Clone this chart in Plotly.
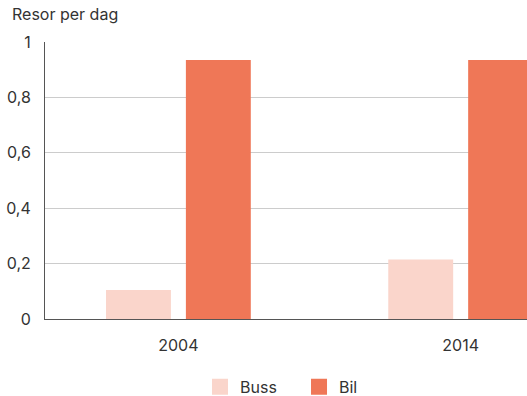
import plotly.graph_objects as go

years = ["2004", "2014"]
buss = [0.105, 0.215]
bil = [0.935, 0.935]
y_ticks = [0, 0.2, 0.4, 0.6, 0.8, 1]
y_ticktext = ["0", "0,2", "0,4", "0,6", "0,8", "1"]
series_names = ["Buss", "Bil"]
series_colors = ["#FAD5CB", "#EF7757"]

FONT = "Inter, Liberation Sans, sans-serif"
TXT = "#333333"

fig = go.Figure()
for name, vals, col in zip(series_names, [buss, bil], series_colors):
    fig.add_trace(go.Bar(name=name, x=years, y=vals, marker=dict(color=col, line=dict(width=0)),
                         showlegend=False))
# legend entries with larger square swatches
for name, col in zip(series_names, series_colors):
    fig.add_trace(go.Scatter(name=name, x=[None], y=[None], mode="markers",
                             marker=dict(symbol="square", size=16, color=col), showlegend=True))

fig.update_layout(
    width=527, height=396,
    margin=dict(l=45, r=0, t=42, b=77, autoexpand=False),
    paper_bgcolor="white", plot_bgcolor="white",
    barmode="group", bargap=0.434, bargroupgap=0.1875,
    font=dict(family=FONT, size=16, color=TXT),
    separators=", ",
    showlegend=True,
    legend=dict(orientation="h", x=0.527, xanchor="center", y=-0.245, yanchor="middle",
                font=dict(size=16, color=TXT), itemwidth=30, traceorder="normal",
                entrywidth=54, entrywidthmode="pixels"),
    annotations=[dict(text="Resor per dag", xref="paper", yref="paper", x=-0.0726, y=1.101,
                      xanchor="left", yanchor="middle", showarrow=False,
                      font=dict(size=16, color=TXT))],
)
fig.update_xaxes(type="category", range=[-0.4726, 1.235], showline=True, linecolor="#555555",
                 linewidth=1, showgrid=False, ticks="", ticklabelstandoff=12)
fig.update_yaxes(range=[0, 1], tickvals=y_ticks, ticktext=y_ticktext, showline=True,
                 linecolor="#555555", linewidth=1, showgrid=True, gridcolor="#CCCCCC",
                 gridwidth=1, zeroline=False, ticks="", ticklabelstandoff=10)

fig.write_html("out.html")
